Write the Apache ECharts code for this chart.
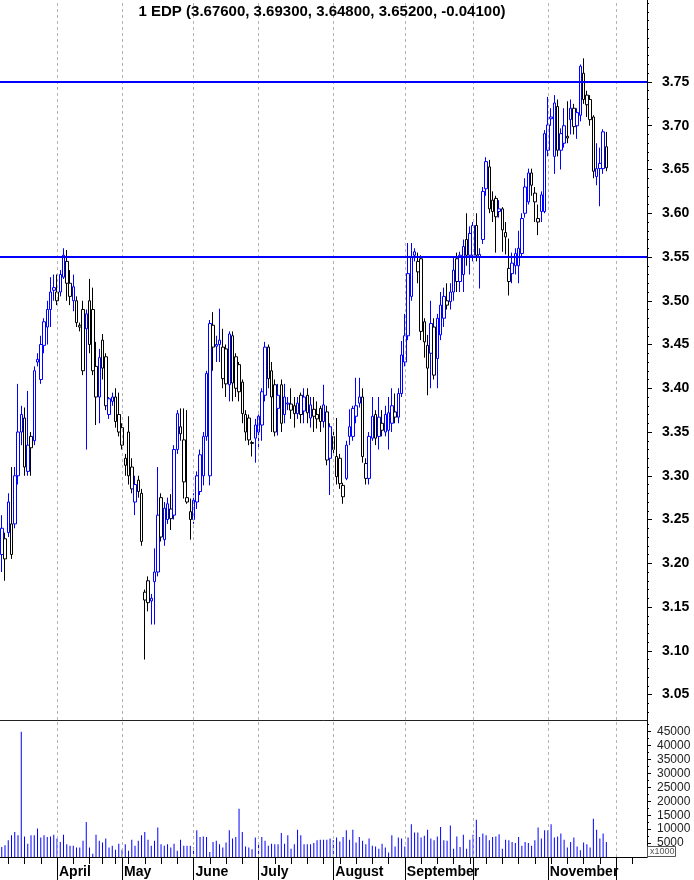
<!DOCTYPE html>
<html><head><meta charset="utf-8">
<script src="https://cdn.jsdelivr.net/npm/echarts@6/dist/echarts.min.js"></script>
<style>html,body{margin:0;padding:0;background:#fff}#c{width:694px;height:880px}</style>
</head><body><div id="c"></div>
<script>
// ---------- categories (trading days, 2019) ----------
const monthKeys = ['2019-03','2019-04','2019-05','2019-06','2019-07','2019-08','2019-09','2019-10','2019-11','2019-12'];
const monthTradingDays = [
  [6,7,8,11,12,13,14,15,18,19,20,21,22,25,26,27,28,29],
  [1,2,3,4,5,8,9,10,11,12,15,16,17,18,23,24,25,26,29,30],
  [2,3,6,7,8,9,10,13,14,15,16,17,20,21,22,23,24,27,28,29,30,31],
  [3,4,5,6,7,10,11,12,13,14,17,18,19,20,21,24,25,26,27,28],
  [1,2,3,4,5,8,9,10,11,12,15,16,17,18,19,22,23,24,25,26,29,30,31],
  [1,2,5,6,7,8,9,12,13,14,15,16,19,20,21,22,23,26,27,28,29,30],
  [2,3,4,5,6,9,10,11,12,13,16,17,18,19,20,23,24,25,26,27,30],
  [1,2,3,4,7,8,9,10,11,14,15,16,17,18,21,22,23,24,25,28,29,30,31],
  [1,4,5,6,7,8,11,12,13,14,15,18,19,20,21,22,25,26,27,28,29],
  [2,3,4,5,6,9,10,11,12,13]
];
const monthTickLabels = ['', 'April','May','June','July','August','September','','November',''];

// ---------- series values ----------
const opens = [
 3.225,3.21,3.205,3.235,3.21,3.245,3.30,3.35,3.366,3.305,3.345,3.34,3.43,3.41,3.449,3.47,3.49,3.515,
 3.50,3.51,3.527,3.545,3.52,3.50,3.50,3.472,3.49,3.468,3.50,3.49,3.425,3.39,3.455,3.436,3.37,3.385,3.39,3.37,
 3.355,3.312,3.35,3.31,3.27,3.295,3.28,3.167,3.18,3.157,3.179,3.19,3.275,3.227,3.25,3.251,3.255,3.33,3.348,3.341,3.275,3.25,
 3.25,3.27,3.282,3.30,3.345,3.30,3.472,3.448,3.45,3.447,3.445,3.404,3.46,3.436,3.427,3.407,3.37,3.366,3.338,3.358,
 3.368,3.358,3.392,3.447,3.42,3.404,3.392,3.404,3.39,3.382,3.382,3.38,3.371,3.392,3.39,3.392,3.366,3.376,3.37,3.377,3.362,3.373,3.32,
 3.345,3.299,3.32,3.289,3.297,3.345,3.345,3.368,3.383,3.39,3.314,3.297,3.343,3.37,3.345,3.36,3.35,3.352,3.36,3.373,3.367,3.394,
 3.43,3.46,3.505,3.556,3.533,3.548,3.476,3.449,3.44,3.47,3.434,3.461,3.48,3.495,3.499,3.51,3.548,3.522,3.53,3.57,3.552,
 3.552,3.586,3.55,3.57,3.628,3.653,3.615,3.617,3.602,3.605,3.573,3.537,3.531,3.54,3.54,3.554,3.60,3.613,3.646,3.623,3.594,3.602,3.602,
 3.672,3.708,3.665,3.722,3.672,3.68,3.688,3.707,3.72,3.70,3.712,3.76,3.735,3.73,3.71,3.642,3.651,3.651,3.676
];
const closes = [
 3.21,3.24,3.228,3.27,3.245,3.30,3.35,3.37,3.31,3.335,3.332,3.42,3.433,3.45,3.476,3.49,3.51,3.512,
 3.51,3.53,3.552,3.52,3.505,3.516,3.475,3.47,3.42,3.485,3.45,3.42,3.39,3.435,3.423,3.38,3.388,3.39,3.362,3.35,
 3.335,3.32,3.30,3.285,3.29,3.282,3.225,3.158,3.155,3.16,3.19,3.255,3.23,3.263,3.268,3.262,3.33,3.371,3.356,3.293,3.27,3.259,
 3.272,3.30,3.324,3.345,3.417,3.474,3.447,3.45,3.455,3.411,3.405,3.462,3.406,3.40,3.396,3.371,3.35,3.341,3.337,3.343,
 3.35,3.396,3.447,3.411,3.39,3.35,3.377,3.36,3.37,3.383,3.375,3.371,3.383,3.37,3.374,3.372,3.381,3.368,3.365,3.362,3.381,3.318,3.356,
 3.33,3.322,3.291,3.276,3.335,3.356,3.377,3.38,3.39,3.322,3.297,3.345,3.368,3.343,3.367,3.352,3.37,3.372,3.38,3.367,3.394,3.438,
 3.46,3.531,3.55,3.552,3.545,3.465,3.453,3.423,3.474,3.415,3.48,3.495,3.505,3.50,3.51,3.535,3.522,3.552,3.562,3.552,3.577,
 3.586,3.552,3.553,3.625,3.659,3.605,3.602,3.596,3.605,3.581,3.578,3.522,3.543,3.554,3.56,3.594,3.63,3.646,3.632,3.613,3.59,3.621,3.691,
 3.701,3.71,3.726,3.672,3.691,3.70,3.686,3.72,3.699,3.715,3.768,3.73,3.724,3.707,3.648,3.651,3.657,3.693,3.652
];
const lows = [
 3.20,3.19,3.18,3.23,3.205,3.24,3.29,3.335,3.30,3.30,3.30,3.335,3.425,3.405,3.44,3.45,3.47,3.50,
 3.495,3.505,3.525,3.50,3.495,3.488,3.47,3.465,3.415,3.33,3.44,3.415,3.358,3.36,3.41,3.375,3.365,3.38,3.355,3.345,
 3.33,3.30,3.29,3.28,3.255,3.275,3.22,3.09,3.145,3.13,3.13,3.185,3.225,3.22,3.245,3.238,3.25,3.325,3.34,3.274,3.268,3.227,
 3.245,3.262,3.278,3.289,3.34,3.289,3.42,3.43,3.43,3.40,3.39,3.385,3.385,3.39,3.385,3.36,3.34,3.335,3.322,3.315,
 3.33,3.34,3.385,3.40,3.35,3.345,3.346,3.35,3.36,3.375,3.365,3.355,3.365,3.36,3.36,3.36,3.355,3.35,3.354,3.35,3.355,3.312,3.278,
 3.325,3.29,3.285,3.268,3.295,3.335,3.34,3.36,3.378,3.315,3.29,3.29,3.34,3.335,3.33,3.345,3.345,3.33,3.35,3.36,3.36,3.39,
 3.425,3.455,3.50,3.545,3.52,3.455,3.435,3.392,3.40,3.41,3.40,3.455,3.47,3.49,3.49,3.50,3.51,3.51,3.51,3.54,3.53,
 3.545,3.545,3.514,3.565,3.62,3.60,3.59,3.555,3.595,3.556,3.553,3.506,3.52,3.53,3.52,3.55,3.595,3.61,3.62,3.59,3.575,3.59,3.60,
 3.665,3.70,3.645,3.665,3.65,3.675,3.68,3.69,3.69,3.685,3.705,3.725,3.71,3.70,3.64,3.632,3.608,3.645,3.648
];
const highs = [
 3.235,3.255,3.235,3.28,3.31,3.31,3.405,3.38,3.378,3.397,3.35,3.425,3.44,3.46,3.48,3.50,3.527,3.53,
 3.53,3.535,3.56,3.558,3.535,3.53,3.505,3.475,3.50,3.49,3.525,3.515,3.453,3.445,3.462,3.44,3.39,3.395,3.40,3.395,
 3.36,3.325,3.368,3.32,3.30,3.30,3.285,3.17,3.185,3.165,3.217,3.31,3.28,3.27,3.275,3.279,3.335,3.375,3.377,3.377,3.375,3.274,
 3.28,3.305,3.33,3.35,3.42,3.478,3.487,3.46,3.491,3.468,3.45,3.465,3.465,3.44,3.43,3.41,3.375,3.37,3.34,3.365,
 3.37,3.40,3.453,3.45,3.43,3.41,3.405,3.41,3.405,3.39,3.40,3.39,3.39,3.395,3.40,3.40,3.39,3.39,3.385,3.38,3.404,3.38,3.36,
 3.35,3.366,3.325,3.292,3.34,3.376,3.38,3.412,3.412,3.40,3.32,3.35,3.39,3.375,3.39,3.375,3.38,3.39,3.40,3.394,3.40,3.454,
 3.485,3.566,3.566,3.56,3.555,3.552,3.48,3.461,3.50,3.48,3.485,3.51,3.515,3.52,3.52,3.55,3.555,3.556,3.57,3.60,3.585,
 3.59,3.60,3.56,3.63,3.664,3.661,3.625,3.62,3.615,3.607,3.59,3.571,3.555,3.56,3.58,3.60,3.64,3.651,3.651,3.63,3.61,3.625,3.695,
 3.733,3.72,3.735,3.73,3.697,3.72,3.728,3.73,3.725,3.72,3.77,3.777,3.74,3.735,3.712,3.68,3.675,3.696,3.693
];
const volumes = [
 5000,3600,4200,6000,7800,9000,7800,45000,7400,4800,7800,7800,10200,7000,7800,7200,7400,8000,
 6600,5400,8000,4600,4000,4000,3400,3400,5800,12600,3400,1200,8000,5800,5200,6600,3400,4000,2600,4800,
 2600,4600,2200,6200,4000,5800,7800,9000,6200,4000,5800,10600,4600,4000,4600,3400,4800,2200,6200,4000,4000,4000,
 3400,9600,7200,7400,7200,1800,5400,5800,4600,3400,5200,9600,6600,7200,17300,9000,3800,3400,2800,7000,
 5400,7200,5800,4000,4800,4600,4600,8600,4800,7800,3000,4600,9800,7800,4600,4600,4600,5000,6000,6200,6200,6200,6600,
 6000,7000,5600,7200,9600,6200,9800,5200,7200,5800,4600,6600,4000,3800,3000,4800,3400,1600,7800,3800,7000,6600,
 3800,7000,11800,8800,8800,7000,7600,9800,6600,6000,7400,10800,6000,5800,11300,3000,7400,3600,8000,3000,6200,
 8000,13400,7200,8400,7800,6000,7200,7400,8200,3000,6200,6000,5400,5000,7200,4000,5400,5000,4000,6000,10600,6600,9600,
 9600,11800,7000,7400,8400,6200,3400,5400,7000,3800,2400,5200,4600,3400,13700,9800,6600,8400,5400
];
const levelLines = [3.75, 3.55];
const priceTickLabels = [3.05,3.10,3.15,3.20,3.25,3.30,3.35,3.40,3.45,3.50,3.55,3.60,3.65,3.70,3.75];
const volumeTickLabels = [5000,10000,15000,20000,25000,30000,35000,40000,45000];

// ---------- checks ----------
const n = opens.length;
[closes, lows, highs, volumes].forEach((a, k) => { if (a.length !== n) throw new Error('length mismatch ' + k + ': ' + a.length + ' vs ' + n); });
for (let i = 0; i < n; i++) {
  if (lows[i] > Math.min(opens[i], closes[i]) + 1e-9 || highs[i] < Math.max(opens[i], closes[i]) - 1e-9) throw new Error('bad ohlc at ' + i);
}

// ---------- build categories ----------
const dates = [];
monthKeys.forEach((m, mi) => monthTradingDays[mi].forEach(d => dates.push(m + '-' + String(d).padStart(2, '0'))));
const isMonthStart = dates.map((d, i) => i > 0 && d.slice(0, 7) !== dates[i - 1].slice(0, 7));
const isWeekStart = dates.map((d, i) => {
  if (i === 0) return false;
  const a = new Date(dates[i - 1] + 'T00:00:00Z'), b = new Date(d + 'T00:00:00Z');
  return b.getUTCDay() <= a.getUTCDay() || (b - a) >= 7 * 864e5;
});
const labelAt = dates.map((d, i) => isMonthStart[i] ? monthTickLabels[monthKeys.indexOf(d.slice(0, 7))] : '');
const monthStartDates = dates.filter((d, i) => isMonthStart[i]);

const BLUE = '#0000ff', BLACK = '#000000';
const candleData = opens.map((o, i) => {
  const c = closes[i];
  const prev = i > 0 ? closes[i - 1] : o;
  const col = c >= prev ? BLUE : BLACK;
  return { value: [o, c, lows[i], highs[i]],
    itemStyle: { color: '#ffffff', color0: col, borderColor: col, borderColor0: col, borderColorDoji: col } };
});

const priceMinor = [];
for (let k = 303; k <= 384; k++) priceMinor.push(k / 100);
const volMinor = [];
for (let v = 2500; v <= 47500; v += 5000) volMinor.push(v);

const FONT = '"Liberation Sans", Arial, sans-serif';
const PMIN = 3.0209, PMAX = 3.8437, VMAX = 49200;
const last = n - 1;
const title = '1 EDP (' + [opens[last], highs[last], lows[last], closes[last], closes[last] - closes[last - 1]].map(v => v.toFixed(5)).join(', ') + ')';

const chart = echarts.init(document.getElementById('c'), null, { renderer: 'canvas' });
chart.setOption({
  animation: false,
  backgroundColor: '#ffffff',
  grid: [
    { left: -3.125, right: 47, top: 0, height: 720, outerBoundsMode: 'none' },
    { left: -3.125, right: 47, top: 720, height: 137, outerBoundsMode: 'none' }
  ],
  xAxis: [
    { gridIndex: 0, type: 'category', data: dates, boundaryGap: true,
      axisLine: { show: true, lineStyle: { color: '#222', width: 1 } },
      axisTick: { show: false }, axisLabel: { show: false }, splitLine: { show: false } },
    { gridIndex: 1, type: 'category', data: dates, boundaryGap: true, position: 'bottom',
      axisLine: { show: true, lineStyle: { color: '#000', width: 1 } },
      axisTick: { show: true, alignWithLabel: true, interval: (i) => isMonthStart[i], length: 23, lineStyle: { color: '#000' } },
      axisLabel: { show: true, interval: (i) => isMonthStart[i], formatter: (v, i) => labelAt[i],
        align: 'left', padding: [0, 0, 0, 2], margin: 8, fontWeight: 'bold', fontSize: 14, color: '#000', fontFamily: FONT },
      splitLine: { show: false } },
    { gridIndex: 1, type: 'category', data: dates, boundaryGap: true, position: 'bottom',
      axisLine: { show: false },
      axisTick: { show: true, alignWithLabel: true, interval: (i) => isWeekStart[i], length: 7, lineStyle: { color: '#000' } },
      axisLabel: { show: false }, splitLine: { show: false } }
  ],
  yAxis: [
    { gridIndex: 0, type: 'value', position: 'right', min: PMIN, max: PMAX,
      axisLine: { show: true, lineStyle: { color: '#000' } },
      axisTick: { show: true, customValues: priceTickLabels, length: 5, lineStyle: { color: '#000' } },
      axisLabel: { show: true, customValues: priceTickLabels, formatter: v => v.toFixed(2), margin: 15,
        fontWeight: 'bold', fontSize: 14, color: '#000', fontFamily: FONT },
      splitLine: { show: false } },
    { gridIndex: 0, type: 'value', position: 'right', min: PMIN, max: PMAX,
      axisLine: { show: false },
      axisTick: { show: true, customValues: priceMinor, length: 2, lineStyle: { color: '#000' } },
      axisLabel: { show: false }, splitLine: { show: false } },
    { gridIndex: 1, type: 'value', position: 'right', min: 0, max: VMAX,
      axisLine: { show: true, lineStyle: { color: '#000' } },
      axisTick: { show: true, customValues: volumeTickLabels, length: 4, lineStyle: { color: '#000' } },
      axisLabel: { show: true, customValues: volumeTickLabels, formatter: v => String(v), margin: 10, fontSize: 12, color: '#222', fontFamily: FONT },
      splitLine: { show: false } },
    { gridIndex: 1, type: 'value', position: 'right', min: 0, max: VMAX,
      axisLine: { show: false },
      axisTick: { show: true, customValues: volMinor, length: 2, lineStyle: { color: '#000' } },
      axisLabel: { show: false }, splitLine: { show: false } }
  ],
  series: [
    { type: 'line', xAxisIndex: 0, yAxisIndex: 0, data: [], z: 1, silent: true,
      markLine: { symbol: 'none', silent: true, label: { show: false },
        lineStyle: { color: '#b4b4b4', type: [3, 3], width: 1 },
        data: monthStartDates.map(d => ({ xAxis: d })) } },
    { type: 'line', xAxisIndex: 1, yAxisIndex: 2, data: [], z: 1, silent: true,
      markLine: { symbol: 'none', silent: true, label: { show: false },
        lineStyle: { color: '#b4b4b4', type: [3, 3], width: 1 },
        data: monthStartDates.map(d => ({ xAxis: d })) } },
    { type: 'candlestick', xAxisIndex: 0, yAxisIndex: 0, data: candleData, barWidth: 3, z: 3,
      itemStyle: { borderWidth: 1 } },
    { type: 'bar', xAxisIndex: 1, yAxisIndex: 2, data: volumes, barWidth: 1, z: 3,
      itemStyle: { color: '#0000ff' } },
    { type: 'line', xAxisIndex: 0, yAxisIndex: 0, data: [], z: 5, silent: true,
      markLine: { symbol: 'none', silent: true, label: { show: false },
        lineStyle: { color: BLUE, type: 'solid', width: 2 },
        data: levelLines.map(v => ({ yAxis: v })) } }
  ],
  graphic: [
    { type: 'text', x: 322, y: 12, z: 10,
      style: { text: title, font: 'bold 15px ' + FONT, fill: '#000', align: 'center', verticalAlign: 'middle', textAlign: 'center', textVerticalAlign: 'middle' } },
    { type: 'rect', shape: { x: 647.5, y: 846.5, width: 28, height: 10 }, z: 10,
      style: { fill: '#fff', stroke: '#555', lineWidth: 1 } },
    { type: 'text', x: 650, y: 852, z: 11,
      style: { text: 'x1000', font: '9px ' + FONT, fill: '#555', verticalAlign: 'middle', textVerticalAlign: 'middle' } }
  ]
});
</script></body></html>
